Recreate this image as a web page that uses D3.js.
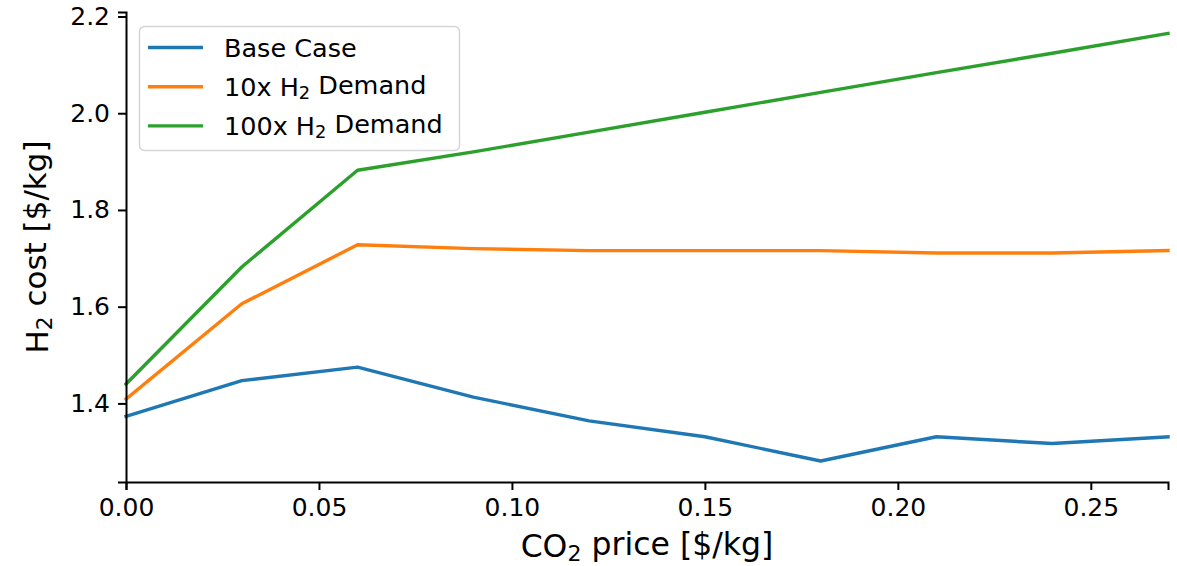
<!DOCTYPE html>
<html><head><meta charset="utf-8">
<script src="https://cdn.jsdelivr.net/npm/d3@7"></script>
<style>body{margin:0;background:#fff}svg{display:block}text{font-family:"DejaVu Sans",sans-serif;fill:#000}</style>
</head><body>
<svg id="c" width="1177" height="566"></svg>
<script>
const co2Price = [0, 0.03, 0.06, 0.09, 0.12, 0.15, 0.18, 0.21, 0.24, 0.27];
const baseCase = [1.373, 1.447, 1.475, 1.413, 1.364, 1.331, 1.281, 1.331, 1.317, 1.331];
const demand10x = [1.409, 1.606, 1.728, 1.720, 1.716, 1.716, 1.716, 1.711, 1.711, 1.716];
const demand100x = [1.440, 1.682, 1.882, 1.920, 1.961, 2.002, 2.043, 2.084, 2.124, 2.165];
const xTicks = [0, 0.05, 0.10, 0.15, 0.20, 0.25];
const yTicks = [1.4, 1.6, 1.8, 2.0, 2.2];
const seriesNames = ["Base Case", "10x H|2 Demand", "100x H|2 Demand"];
const seriesColors = ["#1f77b4", "#ff7f0e", "#2ca02c"];
const seriesValues = [baseCase, demand10x, demand100x];

const svg = d3.select("#c");
const L = 126, R = 1168, T = 12, B = 482;
const x = d3.scaleLinear().domain([0, 0.27]).range([L, R]);
const y = d3.scaleLinear().domain([1.2375, 2.2093]).range([B, T]);

function subText(sel, str) {
  const parts = str.split("|");
  sel.append("tspan").text(parts[0]);
  if (parts.length > 1) {
    sel.append("tspan").attr("font-size", "70%").attr("dy", "0.2em").text(parts[1].charAt(0));
    sel.append("tspan").attr("dy", "-0.2em").text(parts[1].slice(1));
  }
}

// lines
const line = d3.line().x((d, i) => x(co2Price[i])).y(d => y(d));
seriesValues.forEach((vals, k) => {
  svg.append("path").datum(vals).attr("d", line)
    .attr("fill", "none").attr("stroke", seriesColors[k]).attr("stroke-width", 3.4)
    .attr("stroke-linejoin", "round").attr("stroke-linecap", "square");
});

// axes
const xAxis = svg.append("g").attr("transform", `translate(0,${B})`)
  .call(d3.axisBottom(x).tickValues(xTicks).tickFormat(d3.format(".2f")).tickSizeOuter(0).tickSize(8).tickPadding(8));
const yAxis = svg.append("g").attr("transform", `translate(${L},0)`)
  .call(d3.axisLeft(y).tickValues(yTicks).tickFormat(d3.format(".1f")).tickSizeOuter(0).tickSize(8).tickPadding(8));
[xAxis, yAxis].forEach(a => {
  a.select(".domain").attr("stroke", "#000").attr("stroke-width", 2);
  a.selectAll(".tick line").attr("stroke", "#000").attr("stroke-width", 2);
  a.selectAll(".tick text").attr("font-size", 25).attr("font-family", "DejaVu Sans").attr("fill", "#000");
});

// axis labels
const xl = svg.append("text").attr("x", (L + R) / 2).attr("y", 557).attr("text-anchor", "middle").attr("font-size", 31.5);
subText(xl, "CO|2 price [$/kg]");
const yl = svg.append("text").attr("transform", `translate(48,${(T + B) / 2}) rotate(-90)`).attr("text-anchor", "middle").attr("font-size", 31);
subText(yl, "H|2 cost [$/kg]");

// legend
const lg = svg.append("g");
lg.append("rect").attr("x", 139.5).attr("y", 26.5).attr("width", 320).attr("height", 124).attr("rx", 5)
  .attr("fill", "rgba(255,255,255,0.8)").attr("stroke", "#d5d5d5").attr("stroke-width", 1.5);
seriesNames.forEach((name, k) => {
  const cy = 47.5 + k * 39.2;
  lg.append("line").attr("x1", 148).attr("x2", 203).attr("y1", cy).attr("y2", cy)
    .attr("stroke", seriesColors[k]).attr("stroke-width", 3.4);
  const t = lg.append("text").attr("x", 224).attr("y", cy + 9).attr("font-size", 25.5);
  subText(t, name);
});
</script>
</body></html>
